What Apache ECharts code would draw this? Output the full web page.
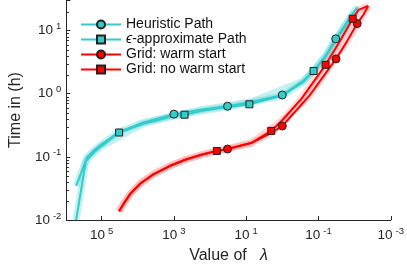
<!DOCTYPE html>
<html><head><meta charset="utf-8">
<script src="https://cdn.jsdelivr.net/npm/echarts@6/dist/echarts.min.js"></script>
<style>html,body{margin:0;padding:0;background:#fff}#c{width:407px;height:269px}</style>
</head><body><div id="c"></div>
<script>
// ---- data (lambda, hours) ----
const seriesNames = ['Heuristic Path', 'ϵ-approximate Path', 'Grid: warm start', 'Grid: no warm start'];
const heurCurve = [[5.05e5,0.0348],[2.5e5,0.099],[1.6e5,0.128],[1e5,0.158],[3.27e4,0.25],[6.89e3,0.352],[164,0.562],[7.33,0.74],[0.27,1.58],[0.1306,2.35],[0.0619,4.1],[0.0178,12.6],[0.0118,18],[0.0096,21.3],[0.0081,23.4]];
const heurMarkers = [[1000,0.475],[32.7,0.634],[1,0.955],[0.0333,7.4]];
const epsCurve = [[5.05e5,0.0100],[2.71e5,0.086],[1.6e5,0.118],[1e5,0.148],[6.89e3,0.335],[1000,0.445],[164,0.535],[32.7,0.615],[1,0.925],[0.27,1.52],[0.0619,3.95],[0.0333,7.1],[0.0178,12.0],[0.0125,16],[0.0105,19.5]];
const epsMarkers = [[3.27e4,0.243],[505,0.465],[8.13,0.68],[0.1365,2.29]];
const warmCurve = [[3.27e4,0.0138],[2.39e4,0.0185],[1.57e4,0.0264],[8.45e3,0.0379],[3.7e3,0.0528],[1.31e3,0.0716],[466,0.0908],[164,0.1087],[64.7,0.124],[7.33,0.1655],[2.11,0.235],[0.175,0.94],[0.0161,6.81],[0.0057,17.8],[0.0042,24.6]];
const warmMarkers = [[32.7,0.133],[1,0.308],[0.0327,3.56],[0.0085,12.9]];
const coldCurve = [[3.27e4,0.0138],[2.39e4,0.0185],[1.57e4,0.0264],[8.45e3,0.0379],[3.7e3,0.0528],[1.31e3,0.0716],[466,0.0908],[164,0.1087],[32.7,0.133],[7.33,0.1655],[1,0.38],[0.294,0.835],[0.027,6.43],[0.0078,21.3],[0.0042,24.6]];
const coldMarkers = [[64.7,0.124],[2.02,0.258],[0.0634,2.87],[0.0113,15.4]];
const xMin = 1e-3, xMax = 9.4e5, yMin = 1e-2, yMax = 30.5;

// ---- build ----
const CYAN = '#33CCCC', RED = '#FF0000', AX = '#262626', FONT = 'Liberation Sans';
function build(curve, markers, sym) {
  const pts = curve.map(p => ({value: p, symbol: 'none'}))
    .concat(markers.map(p => ({value: p, symbol: sym})));
  pts.sort((a, b) => b.value[0] - a.value[0]);
  return pts;
}
function lineSeries(name, curve, markers, sym, color) {
  return {
    name, type: 'line', data: build(curve, markers, sym), symbol: sym, symbolSize: sym === 'rect' ? 7 : 8,
    showSymbol: true, showAllSymbol: true, smooth: false, z: 3,
    lineStyle: {color, width: 2}, itemStyle: {color, borderColor: '#222', borderWidth: 1},
    emphasis: {disabled: true}, animation: false
  };
}
function bandSeries(curve, color) {
  return {type: 'line', data: curve, symbol: 'none', z: 2, lineStyle: {color, width: 7}, silent: true, animation: false};
}
const minorVals = [];
for (let e = -2; e <= 1; e++) for (let k = 2; k <= 9; k++) { const v = k * Math.pow(10, e); if (v < yMax) minorVals.push([xMax, v]); }

function expLabel(v) {
  const l = Math.log10(v), e = Math.round(l);
  if (Math.abs(l - e) > 1e-6) return '';
  return '10{s|' + e + '}';
}
const richSup = {s: {fontSize: 9.5, fontFamily: FONT, color: AX, padding: [0, 0, 8, 3]}};

const chart = echarts.init(document.getElementById('c'), null, {renderer: 'canvas'});
chart.setOption({
  animation: false,
  grid: {left: 61, right: 15, top: 0, bottom: 46, containLabel: false},
  legend: {
    data: seriesNames.map(n => ({name: n})), orient: 'vertical', left: 80, top: 17, padding: 0,
    itemWidth: 40, itemHeight: 10, itemGap: 0,
    textStyle: {fontFamily: FONT, fontSize: 14, color: '#111', lineHeight: 15, height: 15, rich: {i: {fontStyle: 'italic', fontFamily: FONT, fontSize: 14, color: '#111', lineHeight: 15}}},
    formatter: n => n.charAt(0) === 'ϵ' ? '{i|ϵ}' + n.slice(1) : n
  },
  xAxis: {
    type: 'log', logBase: 10, inverse: true, min: xMin, max: xMax, interval: 2,
    name: 'Value of   {i|λ}', nameLocation: 'middle', nameGap: 28,
    nameTextStyle: {fontFamily: FONT, fontSize: 16, color: AX, rich: {i: {fontFamily: FONT, fontSize: 16, fontStyle: 'italic', color: AX}}},
    axisLine: {show: true, lineStyle: {color: AX, width: 1}},
    axisTick: {show: true, inside: true, length: 4, lineStyle: {color: AX}},
    axisLabel: {formatter: expLabel, fontFamily: FONT, fontSize: 13.5, color: AX, margin: 6, rich: richSup, showMinLabel: true, showMaxLabel: true},
    splitLine: {show: false}
  },
  yAxis: {
    type: 'log', logBase: 10, min: yMin, max: yMax, interval: 1,
    name: 'Time in (h)', nameLocation: 'middle', nameGap: 40,
    nameTextStyle: {fontFamily: FONT, fontSize: 16, color: AX},
    axisLine: {show: true, lineStyle: {color: AX, width: 1}},
    axisTick: {show: true, inside: true, length: 4, lineStyle: {color: AX}},
    axisLabel: {formatter: expLabel, fontFamily: FONT, fontSize: 13.5, color: AX, margin: 5, rich: richSup},
    splitLine: {show: false}
  },
  series: [
    bandSeries(heurCurve, 'rgba(51,204,204,0.28)'),
    bandSeries(epsCurve, 'rgba(51,204,204,0.28)'),
    bandSeries(warmCurve, 'rgba(255,80,80,0.22)'),
    bandSeries(coldCurve, 'rgba(255,80,80,0.22)'),
    {type: 'custom', data: minorVals, silent: true, z: 5, animation: false,
      renderItem: (params, api) => {
        const p = api.coord([api.value(0), api.value(1)]);
        return {type: 'line', shape: {x1: p[0], y1: Math.round(p[1]) + 0.5, x2: p[0] + 2.5, y2: Math.round(p[1]) + 0.5}, style: {stroke: AX, lineWidth: 1}};
      }},
    lineSeries(seriesNames[0], heurCurve, heurMarkers, 'circle', CYAN),
    lineSeries(seriesNames[1], epsCurve, epsMarkers, 'rect', CYAN),
    lineSeries(seriesNames[2], warmCurve, warmMarkers, 'circle', RED),
    lineSeries(seriesNames[3], coldCurve, coldMarkers, 'rect', RED)
  ]
});
</script></body></html>
